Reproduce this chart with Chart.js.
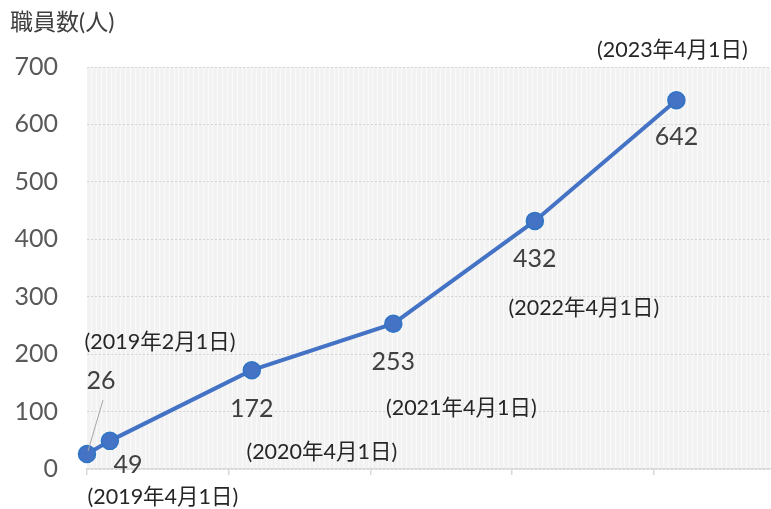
<!DOCTYPE html>
<html>
<head>
<meta charset="utf-8">
<script src="https://cdn.jsdelivr.net/npm/chart.js@4/dist/chart.umd.min.js"></script>
<style>
  html, body { margin: 0; padding: 0; background: #fff; }
  #wrap { width: 771px; height: 509px; position: relative; }
</style>
</head>
<body>
<div id="wrap"><canvas id="grafico"></canvas></div>
<script>
const fechas = ["2019-02-01", "2019-04-01", "2020-04-01", "2021-04-01", "2022-04-01", "2023-04-01"];
const fechaLabels = ["(2019年2月1日)", "(2019年4月1日)", "(2020年4月1日)", "(2021年4月1日)", "(2022年4月1日)", "(2023年4月1日)"];
const staff = [26, 49, 172, 253, 432, 642];
const xTickDates = ["2019-02-01", "2020-02-01", "2021-02-01", "2022-02-01", "2023-02-01"];
const yTicks = [0, 100, 200, 300, 400, 500, 600, 700];
const yTitle = "職員数(人)";

const origen = Date.parse(fechas[0]);
const dias = d => (Date.parse(d) - origen) / 86400000;

const fontNum = "Lato, 'Noto Sans CJK JP', sans-serif";
const fontJp = "Lato, 'Noto Sans CJK JP', sans-serif";

// label offsets from each point: [dx, dy] value label, [dx, dy] date label
const valOff = [[14, -73], [18, 24], [0, 39], [0, 38], [0, 38], [0, 37]];
const dateOff = [[73, -112], [53, 56], [70, 82], [68, 84], [49, 87], [-4, -50]];

const etiquetas = {
  id: "etiquetas",
  beforeDraw(chart) {
    const { ctx, chartArea: a } = chart;
    ctx.save();
    ctx.fillStyle = "#f2f2f2";
    ctx.fillRect(a.left, a.top, a.right - a.left, a.bottom - a.top);
    ctx.restore();
  },
  afterDatasetsDraw(chart) {
    const { ctx } = chart;
    const pts = chart.getDatasetMeta(0).data;
    ctx.save();
    ctx.textAlign = "center";
    ctx.textBaseline = "middle";
    // leader line for first label
    const p0 = pts[0];
    ctx.strokeStyle = "#a6a6a6";
    ctx.lineWidth = 1;
    ctx.beginPath();
    ctx.moveTo(p0.x + 16, p0.y - 54);
    ctx.lineTo(p0.x + 1, p0.y - 3);
    ctx.stroke();
    pts.forEach((p, i) => {
      ctx.fillStyle = "#404040";
      ctx.font = "25px " + fontNum;
      ctx.fillText(String(staff[i]), p.x + valOff[i][0], p.y + valOff[i][1]);
      ctx.fillStyle = "#262626";
      ctx.font = "21.5px " + fontJp;
      ctx.fillText(fechaLabels[i], p.x + dateOff[i][0], p.y + dateOff[i][1]);
    });
    ctx.fillStyle = "#404040";
    ctx.font = "23px " + fontJp;
    ctx.textAlign = "left";
    ctx.fillText(yTitle, 10, 23);
    ctx.restore();
  }
};

new Chart(document.getElementById("grafico"), {
  type: "line",
  data: {
    datasets: [{
      label: yTitle,
      data: fechas.map((f, i) => ({ x: dias(f), y: staff[i] })),
      borderColor: "#4472c4",
      borderWidth: 4,
      tension: 0,
      pointRadius: 8.5,
      pointHoverRadius: 8.5,
      pointBackgroundColor: "#4472c4",
      pointBorderColor: "#2e75c6",
      pointBorderWidth: 1.5,
      clip: false
    }]
  },
  options: {
    responsive: true,
    maintainAspectRatio: false,
    animation: false,
    layout: { autoPadding: false, padding: { top: 67, right: 0, bottom: 0, left: 0 } },
    plugins: {
      legend: { display: false },
      tooltip: { enabled: false }
    },
    scales: {
      x: {
        type: "linear",
        min: 0,
        max: 1764,
        afterBuildTicks: s => { s.ticks = xTickDates.map(d => ({ value: dias(d) })); },
        afterFit: s => { s.height = 40; },
        ticks: { display: false },
        grid: { drawOnChartArea: false, drawTicks: true, tickLength: 6, color: "#d9d9d9", lineWidth: 1.5 },
        border: { display: true, color: "#d9d9d9", width: 1.5 }
      },
      rayas: {
        type: "linear",
        axis: "x",
        position: "bottom",
        min: 0,
        max: 1764,
        afterFit: s => { s.height = 0; },
        ticks: { display: false, stepSize: 12.5 },
        grid: { drawTicks: false, color: "rgba(255,255,255,0.6)", lineWidth: 1.2 },
        border: { display: false }
      },
      y: {
        min: 0,
        max: 700,
        afterBuildTicks: s => { s.ticks = yTicks.map(v => ({ value: v })); },
        afterFit: s => { s.width = 87; },
        ticks: { color: "#595959", padding: 0, font: { size: 25, family: fontNum } },
        grid: { drawTicks: true, tickLength: 29, tickColor: "rgba(0,0,0,0)", color: "#d4d4d4", lineWidth: 1 },
        border: { display: false, dash: [2, 2] }
      }
    }
  },
  plugins: [etiquetas]
});
</script>
</body>
</html>
